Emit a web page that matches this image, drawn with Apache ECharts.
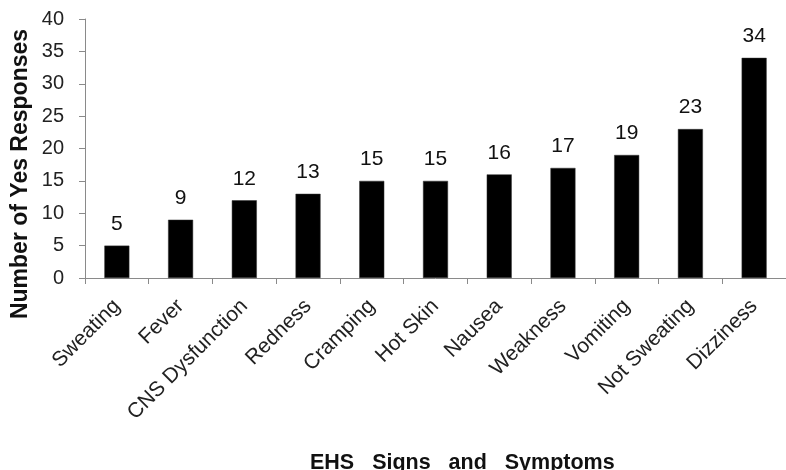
<!DOCTYPE html>
<html>
<head>
<meta charset="utf-8">
<script src="https://cdn.jsdelivr.net/npm/echarts@6/dist/echarts.min.js"></script>
<style>
  html, body { margin: 0; padding: 0; background: #fff; }
  #chart { width: 786px; height: 470px; }
</style>
</head>
<body>
<div id="chart"></div>
<script>
// EHS signs and symptoms: number of "yes" responses per item
const categories = ['Sweating', 'Fever', 'CNS Dysfunction', 'Redness', 'Cramping', 'Hot Skin',
                    'Nausea', 'Weakness', 'Vomiting', 'Not Sweating', 'Dizziness'];
const yesResponses = [5, 9, 12, 13, 15, 15, 16, 17, 19, 23, 34];
const yTicks = [0, 5, 10, 15, 20, 25, 30, 35, 40];

const FONT = '"Liberation Sans", Arial, sans-serif';
const AXIS_GRAY = '#8a8a8a';

const chart = echarts.init(document.getElementById('chart'), null, { renderer: 'canvas' });

chart.setOption({
  animation: false,
  backgroundColor: '#ffffff',
  grid: { left: 85, right: -4, top: 19, bottom: 192, containLabel: false },
  title: {
    text: 'EHS   Signs   and   Symptoms',
    left: 305,
    top: 447,
    textStyle: { fontFamily: FONT, fontSize: 21.5, fontWeight: 'bold', color: '#111' }
  },
  graphic: [{
    type: 'text',
    x: 21,
    y: 174,
    rotation: Math.PI / 2,
    style: {
      text: 'Number of Yes Responses',
      fontFamily: FONT,
      fontSize: 23,
      fontWeight: 'bold',
      fill: '#111',
      align: 'center',
      verticalAlign: 'middle'
    }
  }],
  xAxis: {
    type: 'category',
    data: categories,
    boundaryGap: true,
    axisLine: { lineStyle: { color: AXIS_GRAY, width: 1 } },
    axisTick: { show: true, alignWithLabel: false, length: 6, lineStyle: { color: AXIS_GRAY } },
    axisLabel: {
      rotate: 45,
      interval: 0,
      margin: 25,
      fontFamily: FONT,
      fontSize: 21,
      color: '#222'
    },
    splitLine: { show: false }
  },
  yAxis: {
    type: 'value',
    min: yTicks[0],
    max: yTicks[yTicks.length - 1],
    interval: yTicks[1] - yTicks[0],
    axisLine: { show: true, lineStyle: { color: AXIS_GRAY, width: 1 } },
    axisTick: { show: true, length: 6, lineStyle: { color: AXIS_GRAY } },
    axisLabel: { margin: 21, fontFamily: FONT, fontSize: 20, color: '#222' },
    splitLine: { show: false }
  },
  series: [{
    type: 'bar',
    data: yesResponses,
    barWidth: 25,
    itemStyle: { color: '#000000', borderColor: '#333', borderWidth: 0.5 },
    label: {
      show: true,
      position: 'top',
      distance: 11,
      fontFamily: FONT,
      fontSize: 21,
      color: '#111'
    }
  }]
});
</script>
</body>
</html>
